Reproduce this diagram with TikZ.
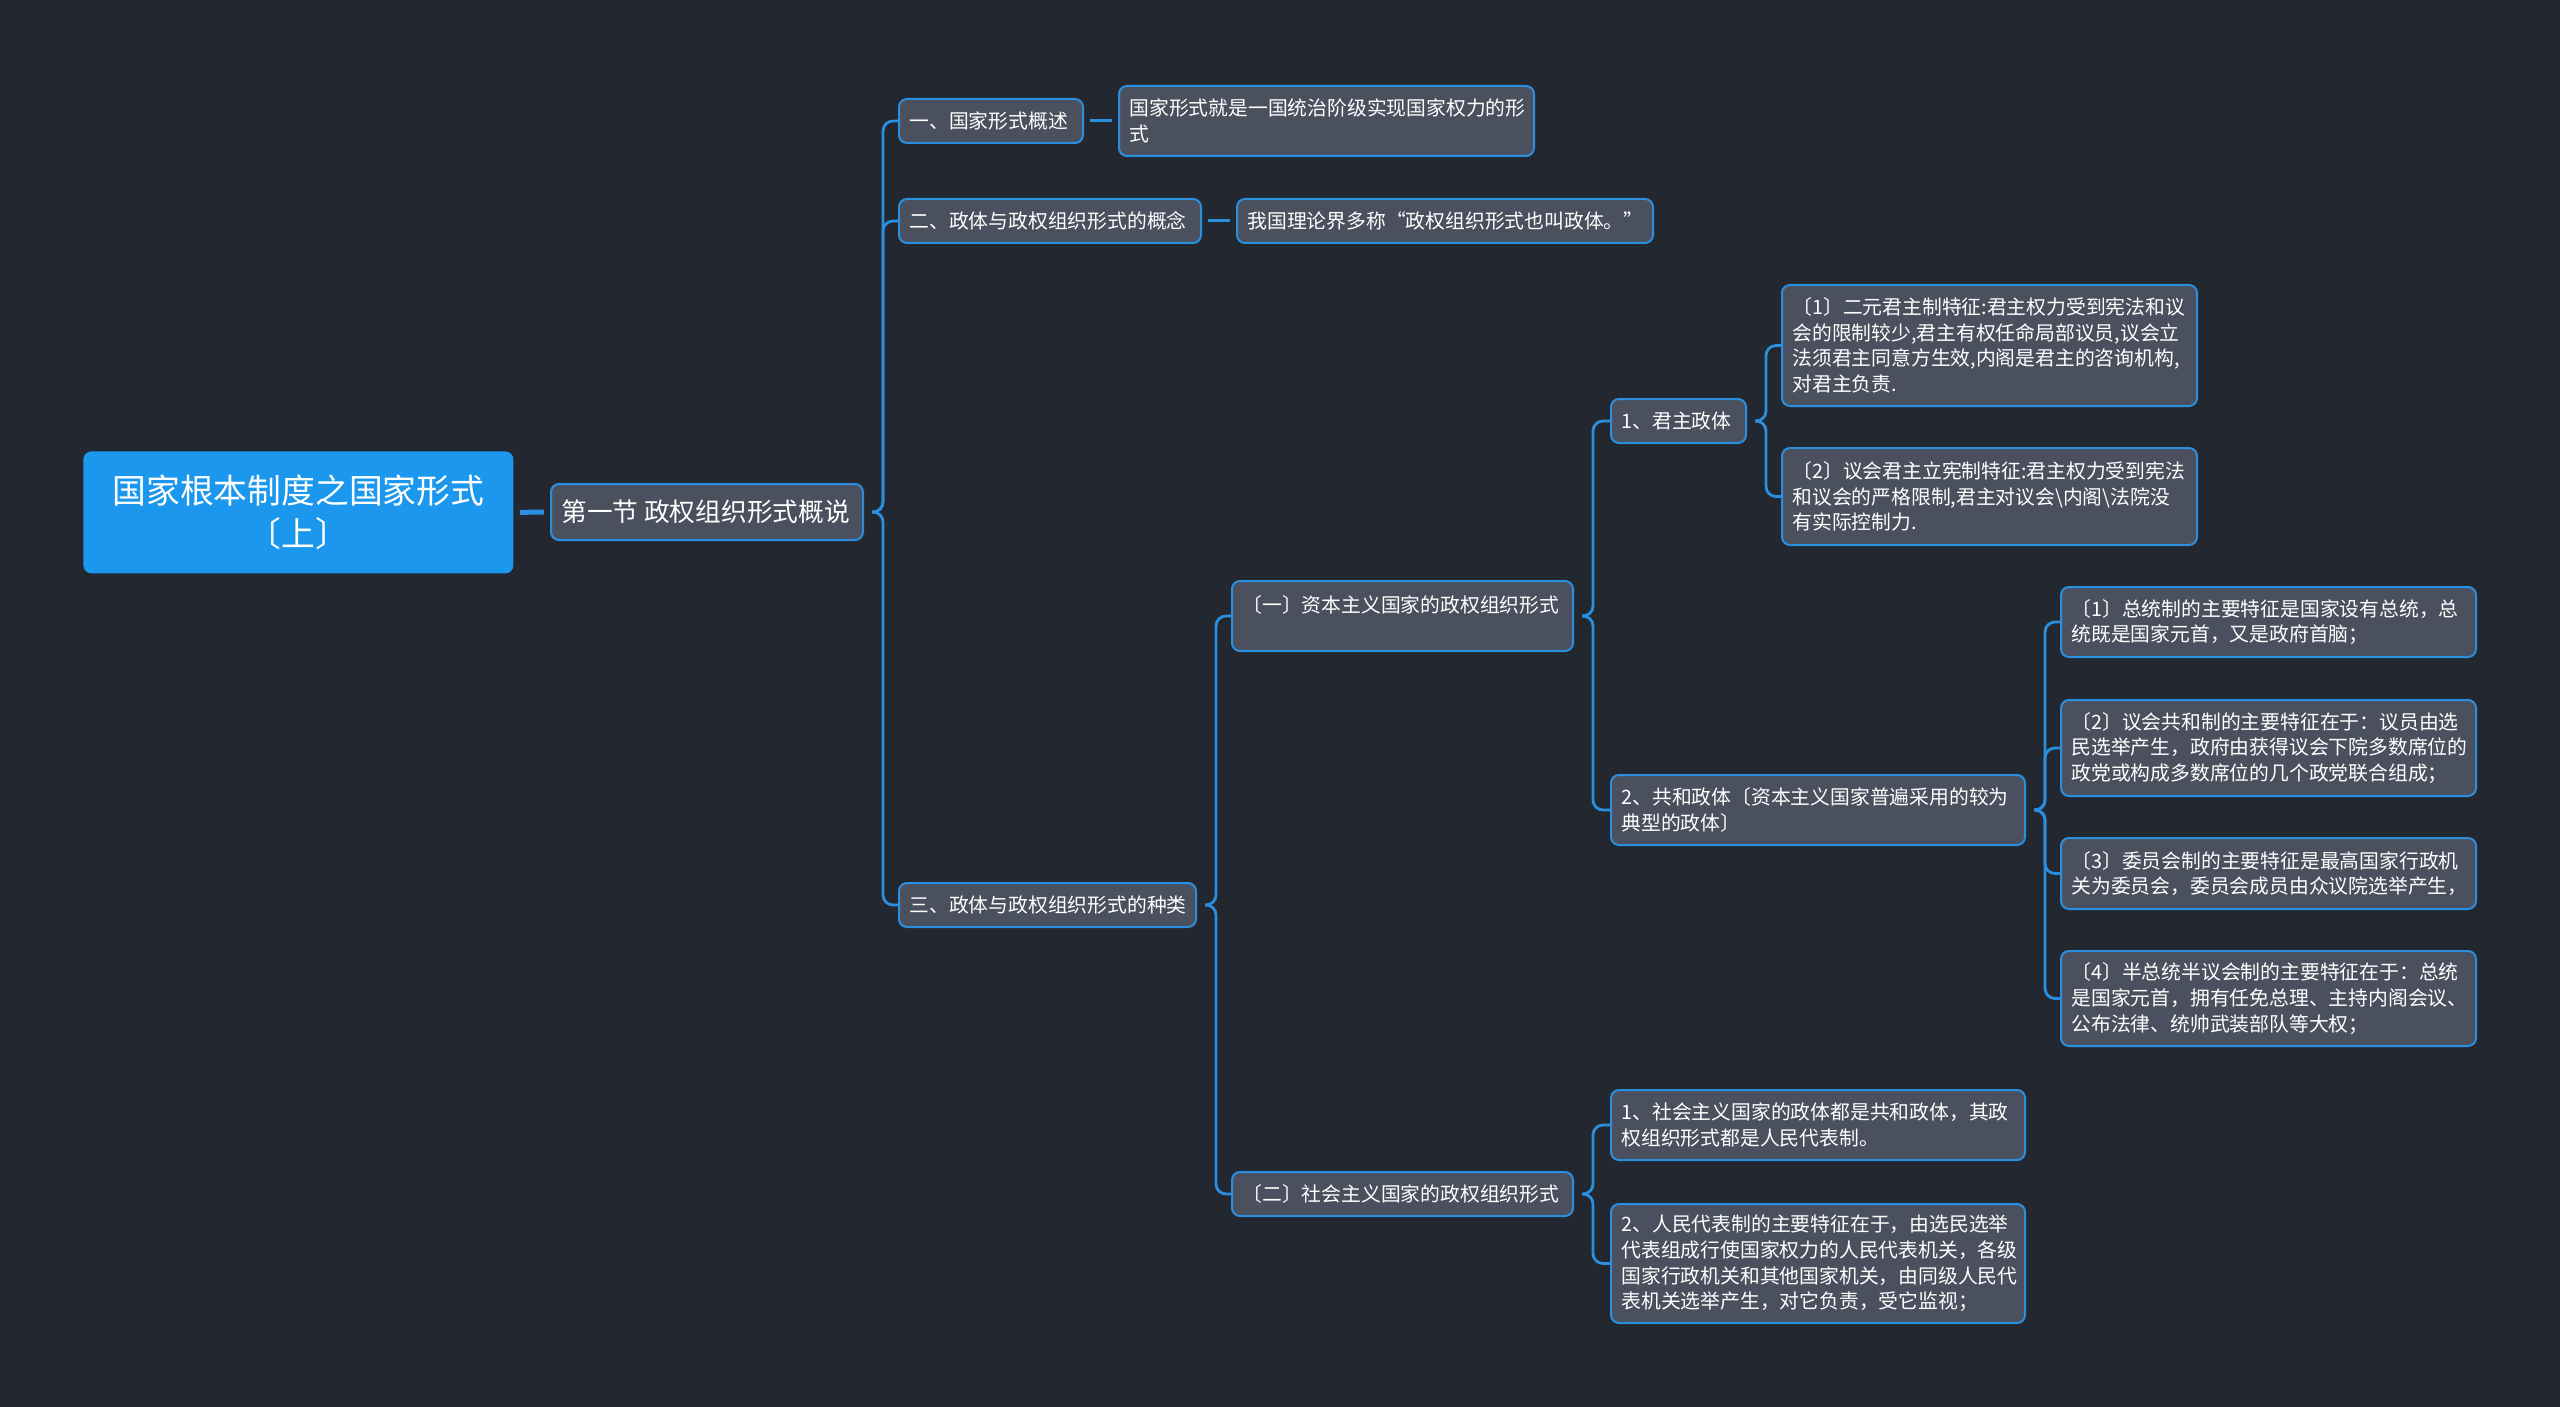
\documentclass[tikz,border=0pt]{standalone}
\usepackage{fontspec}
\setmainfont{Noto Sans CJK SC}
\definecolor{bg}{HTML}{232730}
\definecolor{nodefill}{HTML}{4A505E}
\definecolor{lineblue}{HTML}{2B8FE0}
\definecolor{rootfill}{HTML}{1B98EE}
\tikzset{
  box/.style={draw=lineblue, line width=1pt, fill=nodefill, rounded corners=4pt, inner sep=0pt},
  rootbox/.style={fill=rootfill, rounded corners=4pt, inner sep=0pt},
  txt/.style={text=white, inner sep=0pt, align=left, font=\fontsize{9.9}{12.8}\selectfont},
  l1txt/.style={text=white, inner sep=0pt, align=left, font=\fontsize{12.85}{15}\selectfont},
  roottxt/.style={text=white, inner sep=0pt, align=center, font=\fontsize{16.9}{21.5}\selectfont},
  conn/.style={draw=lineblue, line width=1.4pt, rounded corners=5pt},
  straight/.style={draw=lineblue, line width=1.5pt},
  thickconn/.style={draw=lineblue, line width=2.5pt}
}
\newcommand\mbx[7][txt]{%
  \node[box, anchor=north west, minimum width={(#4-#2)*0.5pt}, minimum height={(#5-#3)*0.5pt}] (#6) at (#2,#3) {};
  \node[#1, anchor=west] (#6-t) at ([xshift=5.5pt]#6.west) {#7};
}
\newcommand\brc[2]{\draw[conn] ([xshift=4pt]#1.east) -- ([xshift=9.5pt]#1.east) |- (#2.west);}
\begin{document}
\begin{tikzpicture}[x=0.5pt,y=-0.5pt]
\useasboundingbox[fill=bg] (0,0) rectangle (2560,1407);

% root
\node[rootbox, anchor=north west, minimum width={(513-83)*0.5pt}, minimum height={(573-451)*0.5pt}] (root) at (83,451) {};
\node[roottxt] (root-t) at (root.center) {国家根本制度之国家形式\\〔上〕};

% level 1
\mbx[l1txt]{550}{483}{862}{539}{L1}{第一节 政权组织形式概说}

% level 2
\mbx{898}{98}{1082}{142}{a1}{一、国家形式概述}
\mbx{1118}{85}{1533}{155}{a1d}{国家形式就是一国统治阶级实现国家权力的形\\式}
\mbx{898}{198}{1200}{242}{a2}{二、政体与政权组织形式的概念}
\mbx{1236}{198}{1652}{242}{a2d}{我国理论界多称“政权组织形式也叫政体。”}
\mbx{898}{882}{1195}{926}{a3}{三、政体与政权组织形式的种类}

% level 3
\node[box, anchor=north west, minimum width={(1572-1231)*0.5pt}, minimum height={(650-580)*0.5pt}] (b1) at (1231,580) {};
\node[txt, anchor=north west] (b1-t) at ([xshift=5.5pt,yshift=-7.5pt]b1.north west) {〔一〕资本主义国家的政权组织形式};
\mbx{1231}{1171}{1572}{1215}{b2}{〔二〕社会主义国家的政权组织形式}

% level 4
\mbx{1610}{398}{1745}{442}{c1}{1、君主政体}
\mbx{1610}{774}{2024}{844}{c2}{2、共和政体〔资本主义国家普遍采用的较为\\典型的政体〕}
\mbx{1610}{1089}{2024}{1159}{f1}{1、社会主义国家的政体都是共和政体，其政\\权组织形式都是人民代表制。}
\mbx{1610}{1203}{2024}{1322}{f2}{2、人民代表制的主要特征在于，由选民选举\\代表组成行使国家权力的人民代表机关，各级\\国家行政机关和其他国家机关，由同级人民代\\表机关选举产生，对它负责，受它监视；}

% level 5
\mbx{1781}{284}{2196}{405}{d1}{〔1〕二元君主制特征:君主权力受到宪法和议\\会的限制较少,君主有权任命局部议员,议会立\\法须君主同意方生效,内阁是君主的咨询机构,\\对君主负责.}
\mbx{1781}{447}{2196}{544}{d2}{〔2〕议会君主立宪制特征:君主权力受到宪法\\和议会的严格限制,君主对议会\textbackslash 内阁\textbackslash 法院没\\有实际控制力.}
\mbx{2060}{586}{2475}{656}{e1}{〔1〕总统制的主要特征是国家设有总统，总\\统既是国家元首，又是政府首脑；}
\mbx{2060}{699}{2475}{795}{e2}{〔2〕议会共和制的主要特征在于：议员由选\\民选举产生，政府由获得议会下院多数席位的\\政党或构成多数席位的几个政党联合组成；}
\mbx{2060}{837}{2475}{908}{e3}{〔3〕委员会制的主要特征是最高国家行政机\\关为委员会，委员会成员由众议院选举产生，}
\mbx{2060}{950}{2475}{1045}{e4}{〔4〕半总统半议会制的主要特征在于：总统\\是国家元首，拥有任免总理、主持内阁会议、\\公布法律、统帅武装部队等大权；}

% connectors
\draw[thickconn] ([xshift=3pt]root.east) -- ([xshift=-3pt]L1.west);
\brc{L1}{a1}
\brc{L1}{a2}
\brc{L1}{a3}
\draw[straight] ([xshift=3pt]a1.east) -- ([xshift=-3pt]a1d.west);
\draw[straight] ([xshift=3pt]a2.east) -- ([xshift=-3pt]a2d.west);
\brc{a3}{b1}
\brc{a3}{b2}
\brc{b1}{c1}
\brc{b1}{c2}
\brc{c1}{d1}
\brc{c1}{d2}
\brc{c2}{e1}
\brc{c2}{e2}
\brc{c2}{e3}
\brc{c2}{e4}
\brc{b2}{f1}
\brc{b2}{f2}
\end{tikzpicture}
\end{document}
